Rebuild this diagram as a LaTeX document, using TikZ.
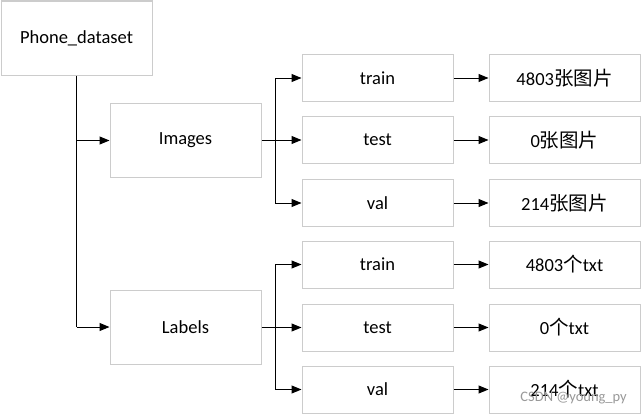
\documentclass[tikz,border=0pt]{standalone}
\usepackage{fontspec}
\setmainfont{Carlito}
\newfontfamily\cjk{Noto Sans CJK SC}
\usetikzlibrary{arrows.meta}
\newcommand\zh[1]{{\cjk\fontsize{19.5}{22}\selectfont #1}}
\begin{document}
\begin{tikzpicture}[x=1pt,y=-1pt,
  box/.style={draw=black!20,line width=1pt,fill=white,minimum width=151pt,minimum height=74pt,inner sep=0pt,font=\fontsize{18.5}{22}\selectfont},
  sbox/.style={draw=black!20,line width=1pt,fill=white,minimum width=151pt,minimum height=47pt,inner sep=0pt,font=\fontsize{18.5}{22}\selectfont},
  conn/.style={line width=1pt,black},
  arr/.style={conn,-{Triangle[length=10pt,width=8pt]}}]
\useasboundingbox (0,0) rectangle (641,415);
\node[box] (root) at (76.5,38) {Phone\_dataset};
\node[box] (img) at (185.5,140.5) {Images};
\node[box] (lab) at (185.5,327) {Labels};
\node[sbox] (itr) at (377.5,78) {train};
\node[sbox] (ite) at (377.5,140) {test};
\node[sbox] (iva) at (377.5,203) {val};
\node[sbox] (ltr) at (377.5,264.5) {train};
\node[sbox] (lte) at (377.5,327.5) {test};
\node[sbox] (lva) at (377.5,389.5) {val};
\node[sbox] (rtr) at (564.5,78) {4803\zh{张图片}};
\node[sbox] (rte) at (564.5,140) {0\zh{张图片}};
\node[sbox] (rva) at (564.5,203) {214\zh{张图片}};
\node[sbox] (rltr) at (564.5,264.5) {4803\zh{个}txt};
\node[sbox] (rlte) at (564.5,327.5) {0\zh{个}txt};
\node[sbox] (rlva) at (564.5,389.5) {214\zh{个}txt};
% root trunk
\coordinate (t1) at (76.5,140.5);
\coordinate (t2) at (76.5,327);
\draw[conn] (root.south) -- (t2);
\draw[arr] (t1) -- (img.west);
\draw[arr] (t2) -- (lab.west);
% Images branch
\coordinate (ib) at (275,140.5);
\draw[conn] (img.east) -- (ib);
\draw[conn] (ib |- itr) -- (ib |- iva);
\draw[arr] (ib |- itr) -- (itr.west);
\draw[arr] (ib |- ite) -- (ite.west);
\draw[arr] (ib |- iva) -- (iva.west);
% Labels branch
\coordinate (lb) at (275,327);
\draw[conn] (lab.east) -- (lb);
\draw[conn] (lb |- ltr) -- (lb |- lva);
\draw[arr] (lb |- ltr) -- (ltr.west);
\draw[arr] (lb |- lte) -- (lte.west);
\draw[arr] (lb |- lva) -- (lva.west);
% right arrows
\draw[arr] (itr.east) -- (rtr.west);
\draw[arr] (ite.east) -- (rte.west);
\draw[arr] (iva.east) -- (rva.west);
\draw[arr] (ltr.east) -- (rltr.west);
\draw[arr] (lte.east) -- (rlte.west);
\draw[arr] (lva.east) -- (rlva.west);
\node[font=\fontsize{14.5}{17}\selectfont,text=black!40,anchor=east,inner sep=0pt] (wm) at (627,398) {CSDN @young\_py};
\end{tikzpicture}
\end{document}
